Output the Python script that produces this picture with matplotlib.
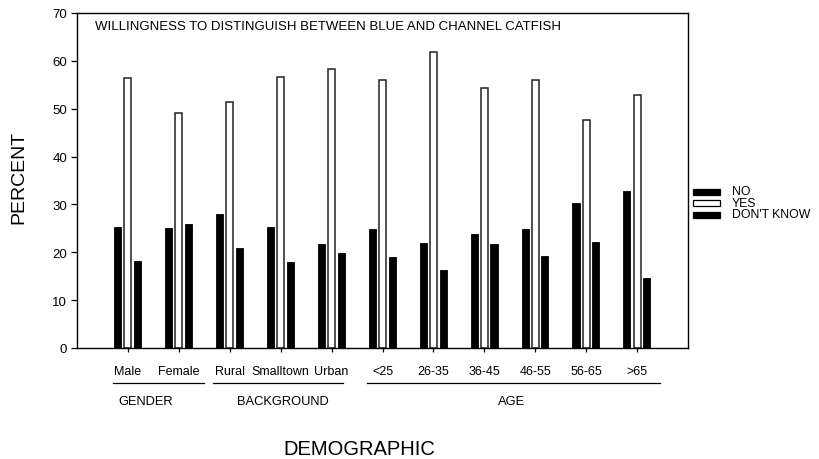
import matplotlib
matplotlib.use("Agg")
import matplotlib.pyplot as plt
from matplotlib.patches import Rectangle

plt.rcParams['font.family'] = ['Liberation Sans', 'DejaVu Sans']

categories = ["Male", "Female", "Rural", "Smalltown", "Urban", "<25",
              "26-35", "36-45", "46-55", "56-65", ">65"]
no_vals = [25.3, 25.0, 27.9, 25.3, 21.8, 24.8, 22.0, 23.8, 24.8, 30.4, 32.8]
yes_vals = [56.4, 49.1, 51.4, 56.7, 58.4, 56.1, 61.9, 54.4, 55.9, 47.7, 52.8]
dk_vals = [18.1, 25.9, 20.9, 18.0, 19.8, 19.0, 16.2, 21.8, 19.3, 22.1, 14.6]
series_labels = ["NO", "YES", "DON'T KNOW"]
series_faces = ["black", "white", "black"]
groups = ["GENDER", "BACKGROUND", "AGE"]
title = "WILLINGNESS TO DISTINGUISH BETWEEN BLUE AND CHANNEL CATFISH"

W, H = 819, 460
fig = plt.figure(figsize=(W / 100, H / 100), dpi=100)
ax = fig.add_axes([77 / W, 1 - 349 / H, (688 - 77) / W, (349 - 14) / H])

x = list(range(1, len(categories) + 1))
bw = 0.14
ax.bar([v - 0.2 for v in x], no_vals, width=bw, color="black", edgecolor="black", linewidth=0.6)
ax.bar(x, yes_vals, width=bw, color="white", edgecolor="#222222", linewidth=1.1)
ax.bar([v + 0.19 for v in x], dk_vals, width=bw, color="black", edgecolor="black", linewidth=0.6)

ax.set_xlim(0, 12)
ax.set_ylim(0, 70)
ax.set_yticks(range(0, 71, 10))
ax.tick_params(axis="y", direction="out", length=4, width=0.9, labelsize=9.5, pad=3)
ax.set_xticks(x)
ax.set_xticklabels(categories, fontsize=9)
ax.tick_params(axis="x", direction="out", length=3, width=0.9, pad=9)
for s in ax.spines.values():
    s.set_linewidth(1.0)

ax.text(95 / W, 1 - 26.5 / H, title, transform=fig.transFigure, fontsize=9.5,
        ha="left", va="center")

# group lines and labels
trans = ax.get_xaxis_transform()
yline = (349 - 384) / 335
ylab = (349 - 402) / 335
spans = [(0.71, 2.49), (2.67, 5.22), (5.70, 11.45)]
label_x = [1.34, 4.05, 8.54]
for (a, b), g, lx in zip(spans, groups, label_x):
    ax.plot([a, b], [yline, yline], color="black", linewidth=0.9, transform=trans, clip_on=False)
    ax.text(lx, ylab, g, transform=trans, ha="center", va="center", fontsize=9.3)

fig.text(359 / W, 1 - 450 / H, "DEMOGRAPHIC", ha="center", va="center", fontsize=14.5)
fig.text(19 / W, 1 - 177 / H, "PERCENT", ha="center", va="center", fontsize=14, rotation=90)

# legend (manual, compact rows)
row_y = [192.5, 204.0, 215.5]
for yc, lab, fc in zip(row_y, series_labels, series_faces):
    fig.patches.append(Rectangle((693 / W, 1 - (yc + 3) / H), 27 / W, 6 / H,
                                 transform=fig.transFigure, facecolor=fc,
                                 edgecolor="black", linewidth=0.9))
    fig.text(732 / W, 1 - yc / H, lab, ha="left", va="center", fontsize=8.8)

fig.savefig("out.png", dpi=100)
